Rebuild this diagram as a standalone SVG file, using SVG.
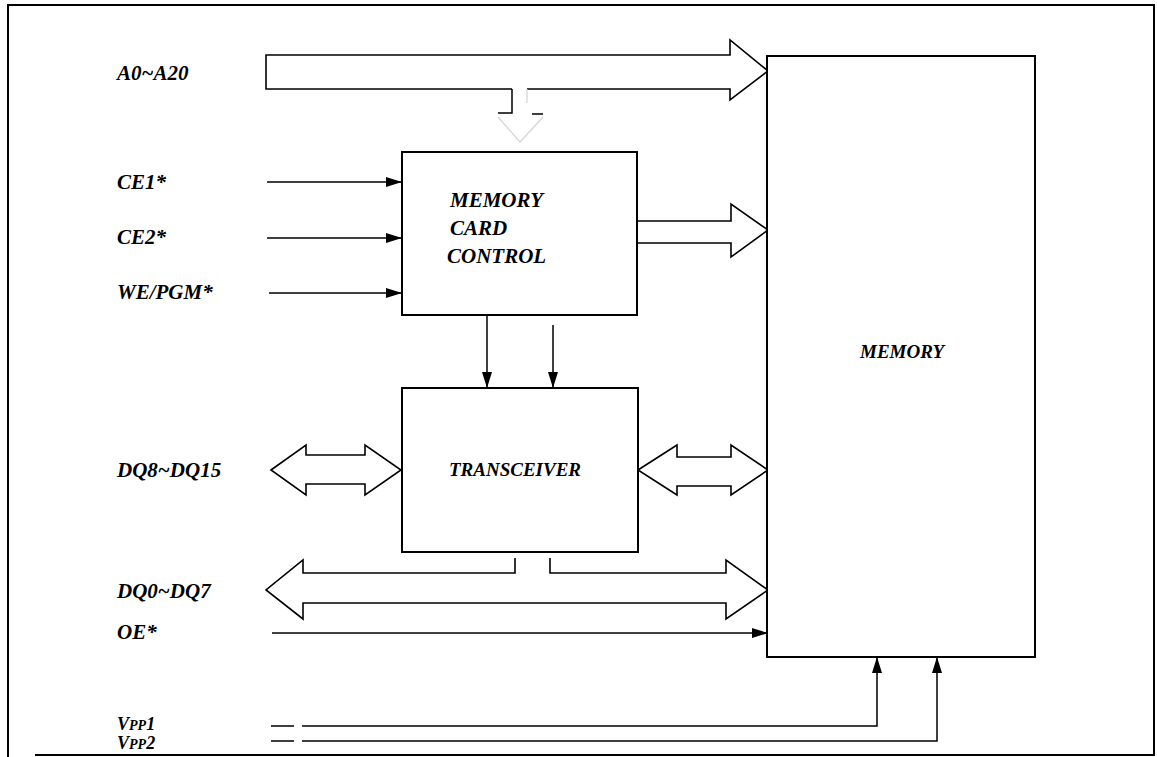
<svg xmlns="http://www.w3.org/2000/svg" width="1157" height="757" viewBox="0 0 1157 757">
<style>
.lbl{font-family:"Liberation Serif","Times New Roman",serif;font-weight:bold;font-style:italic;font-size:21px;fill:#000}
.sm{font-size:18px}
.box{fill:#fff;stroke:#000;stroke-width:2}
.bus{fill:none;stroke:#000;stroke-width:1.6;stroke-linejoin:miter}
.ln{fill:none;stroke:#000;stroke-width:1.5}
.faint{fill:none;stroke:#d4d4d4;stroke-width:1.2}
</style>
<defs>
<marker id="ah" markerUnits="userSpaceOnUse" markerWidth="18" markerHeight="12" refX="16" refY="5" orient="auto">
<path d="M0,0 L16,5 L0,10 Z" fill="#000"/>
</marker>
</defs>
<rect x="0" y="0" width="1157" height="757" fill="#fff"/>
<path d="M8,757 V5 H1154 V755 H35" fill="none" stroke="#000" stroke-width="2"/>

<g id="connectors">
<g id="bus-a0">
<path class="bus" d="M512,89 H266 V55 H730 V40 L768,71 L730,100 V89 H527"/>
<path class="ln" d="M512,89 V113 H498 M532,114 H543"/>
<path class="faint" d="M527,89 V103 M498,117 L520,142 L543,117"/>
</g>
<path id="bus-ctrl-mem" class="bus" d="M637,221 H731 V204 L768,230 L731,257 V243 H637"/>
<path id="ce1" class="ln" d="M267,182 H402" marker-end="url(#ah)"/>
<path id="ce2" class="ln" d="M267,238 H402" marker-end="url(#ah)"/>
<path id="we" class="ln" d="M269,293 H402" marker-end="url(#ah)"/>
<path id="ctrl-tr1" class="ln" d="M487,315 V388" marker-end="url(#ah)"/>
<path id="ctrl-tr2" class="ln" d="M553,325 V388" marker-end="url(#ah)"/>
<path id="bus-dq8" class="bus" d="M271,470 L306,445 V455 H365 V445 L401,470 L365,495 V484 H306 V495 Z"/>
<path id="bus-tr-mem" class="bus" d="M638,470 L677,445 V457 H731 V445 L768,470 L731,495 V486 H677 V495 Z"/>
<path id="bus-dq0" class="bus" d="M515,558 V573 H303 V560 L266,590 L303,619 V603 H726 V619 L768,590 L726,560 V573 H550 V558"/>
<path id="oe" class="ln" d="M272,633 H768" marker-end="url(#ah)"/>
<path id="vpp1" class="ln" d="M271,726 H294 M302,726 H877 V657" marker-end="url(#ah)"/>
<path id="vpp2" class="ln" d="M271,741 H294 M302,741 H937 V657" marker-end="url(#ah)"/>
</g>

<g id="labels">
<text class="lbl" x="117" y="80">A0~A20</text>
<text class="lbl" x="117" y="189">CE1*</text>
<text class="lbl" x="117" y="244">CE2*</text>
<text class="lbl" x="117" y="299">WE/PGM*</text>
<text class="lbl" x="117" y="477">DQ8~DQ15</text>
<text class="lbl" x="117" y="598">DQ0~DQ7</text>
<text class="lbl" x="117" y="639">OE*</text>
<text class="lbl sm" x="117" y="730">V<tspan font-size="14">PP</tspan>1</text>
<text class="lbl sm" x="117" y="749">V<tspan font-size="14">PP</tspan>2</text>
</g>

<g id="node-control">
<rect class="box" x="402" y="152" width="235" height="163"/>
<text class="lbl" x="450" y="207">MEMORY</text>
<text class="lbl" x="450" y="235">CARD</text>
<text class="lbl" x="447" y="263">CONTROL</text>
</g>
<g id="node-transceiver">
<rect class="box" x="402" y="388" width="236" height="164"/>
<text class="lbl" x="449" y="476" style="font-size:19px">TRANSCEIVER</text>
</g>
<g id="node-memory">
<rect class="box" x="767" y="56" width="268" height="601"/>
<text class="lbl" x="860" y="358" style="font-size:19px">MEMORY</text>
</g>
</svg>
